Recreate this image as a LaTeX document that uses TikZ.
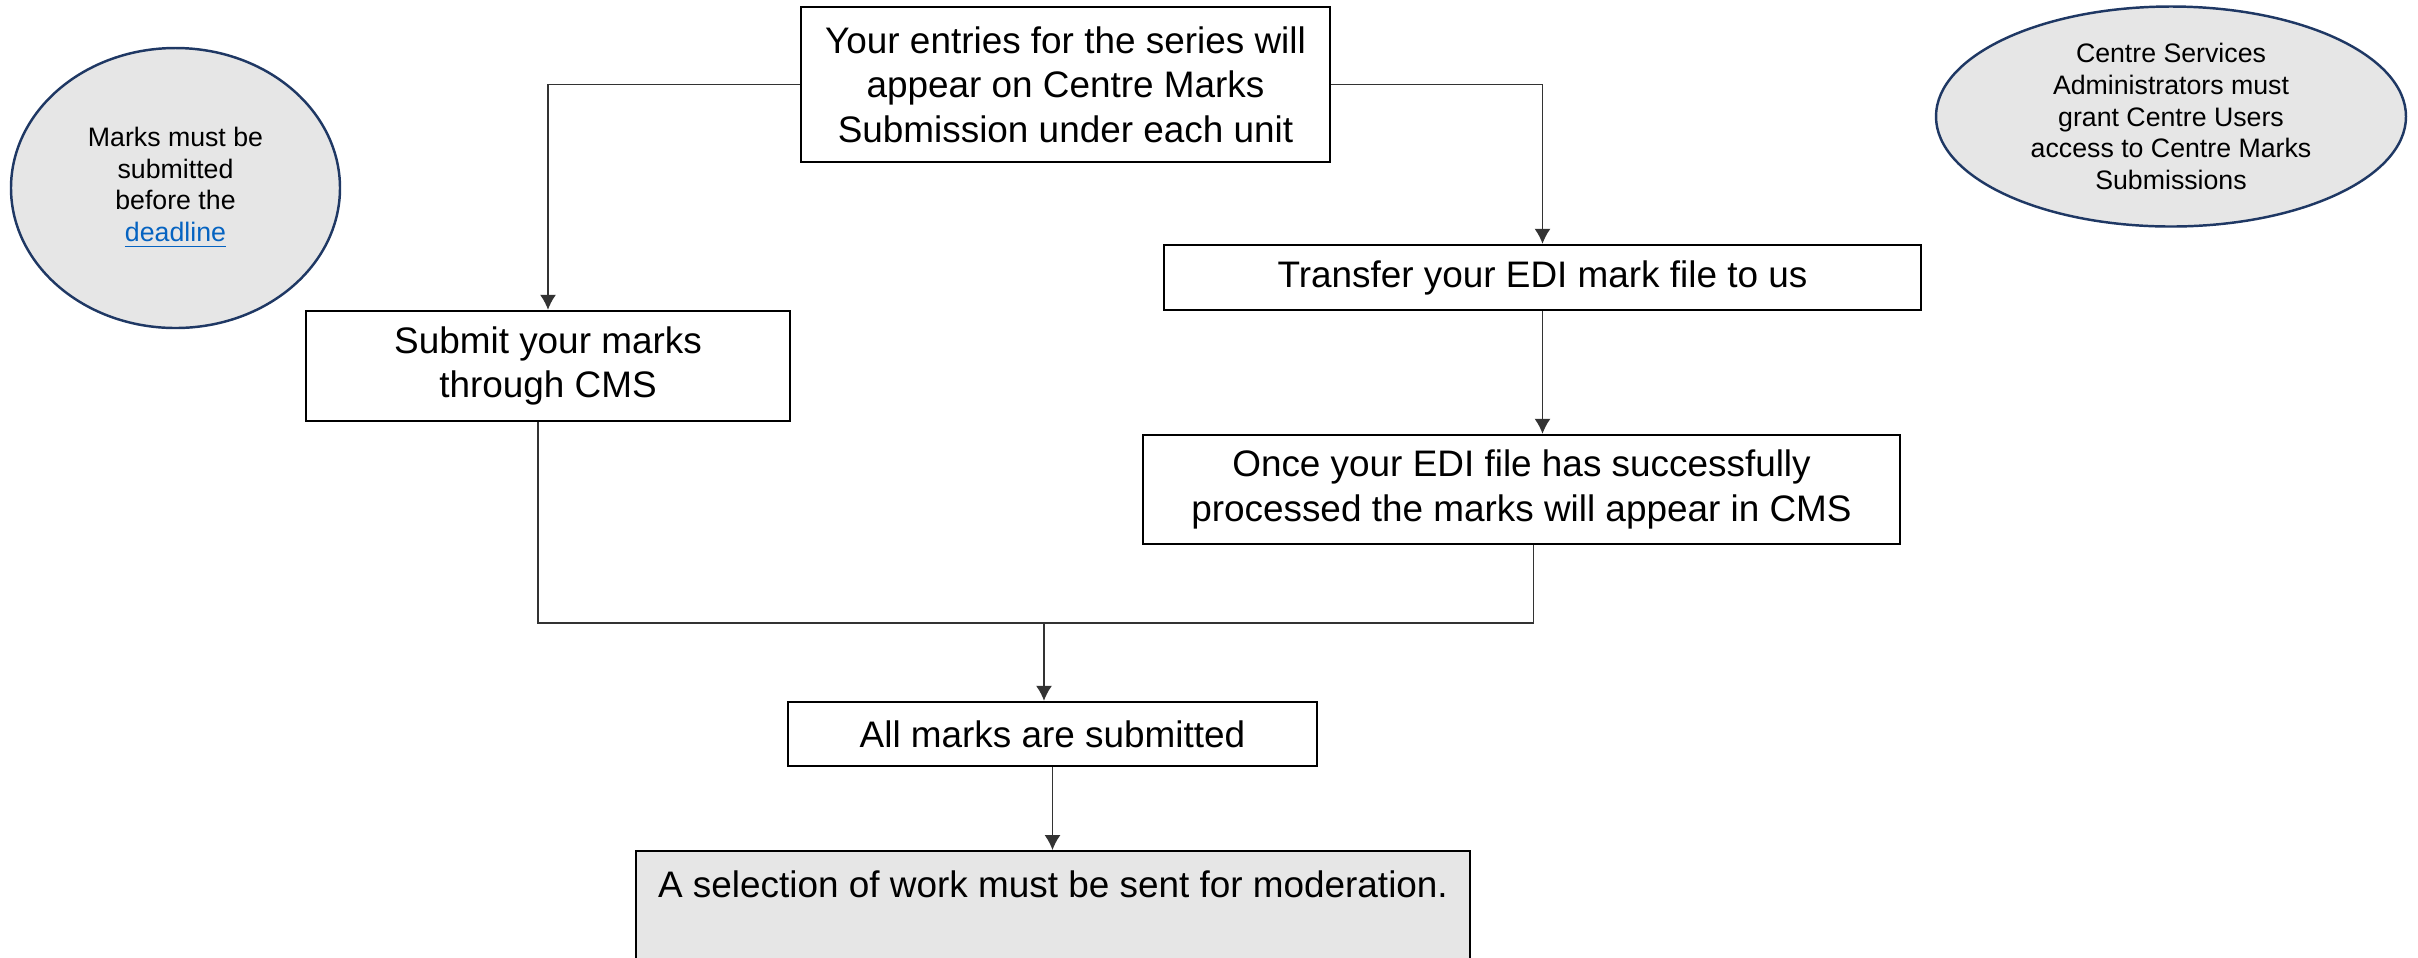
\documentclass[tikz,border=0pt]{standalone}
\usepackage{fontspec}
\setmainfont{Liberation Sans}
\usepackage{xcolor}
\usepackage{tikz}
\usetikzlibrary{shapes.geometric, arrows.meta}
\definecolor{notefill}{HTML}{E6E6E6}
\definecolor{noteborder}{HTML}{1F3864}
\definecolor{linkblue}{HTML}{0563C1}
\tikzset{
    process/.style={rectangle, draw=black, line width=0.7pt, fill=white, align=center, inner sep=0pt, font=\fontsize{10.5pt}{12.7pt}\selectfont},
    finalbox/.style={process, fill=notefill},
    note/.style={ellipse, draw=noteborder, line width=0.7pt, fill=notefill, align=center, inner sep=0pt, font=\fontsize{7.6pt}{9pt}\selectfont},
    line/.style={draw=black!80, line width=0.4pt},
    arrow/.style={line, -{Latex[length=0.15cm, width=0.16cm]}}
}

\begin{document}
\begin{tikzpicture}
    \useasboundingbox (0,0) rectangle (24.18,-9.57);
    \node (entries) [process, minimum width=5.29cm, minimum height=1.55cm] at (10.655,-0.845) {Your entries for the series will\\appear on Centre Marks\\Submission under each unit};
    \node (submit) [process, minimum width=4.84cm, minimum height=1.10cm] at (5.48,-3.66) {Submit your marks\\through CMS};
    \node (transfer) [process, minimum width=7.57cm, minimum height=0.65cm] at (15.425,-2.775) {Transfer your EDI mark file to us};
    \node (processed) [process, minimum width=7.57cm, minimum height=1.09cm] at (15.215,-4.895) {Once your EDI file has successfully\\processed the marks will appear in CMS};
    \node (allmarks) [process, minimum width=5.29cm, minimum height=0.64cm] at (10.525,-7.34) {All marks are submitted};
    \node (moderation) [finalbox, anchor=north, minimum width=8.34cm, inner ysep=0.2cm, text depth=1.5cm] at (10.53,-8.50) {A selection of work must be sent for moderation.};
    \node (deadlinenote) [note, minimum width=3.29cm, minimum height=2.80cm] at (1.755,-1.88) {Marks must be\\submitted\\before the\\\textcolor{linkblue}{\underline{deadline}}};
    \node (accessnote) [note, minimum width=4.70cm, minimum height=2.20cm] at (21.71,-1.165) {Centre Services\\Administrators must\\grant Centre Users\\access to Centre Marks\\Submissions};
    \coordinate (merge) at (10.44,-6.23);

    \draw [arrow] (entries.west) -| (submit.north);
    \draw [arrow] (entries.east) -| (transfer.north);
    \draw [arrow] (transfer.south) -- (transfer.south |- processed.north);
    \draw [line] ([xshift=-0.1cm]submit.south) |- (merge);
    \draw [line] ([xshift=0.12cm]processed.south) |- (merge);
    \draw [arrow] (merge) -- (merge |- allmarks.north);
    \draw [arrow] (allmarks.south) -- (allmarks.south |- moderation.north);
\end{tikzpicture}
\end{document}
